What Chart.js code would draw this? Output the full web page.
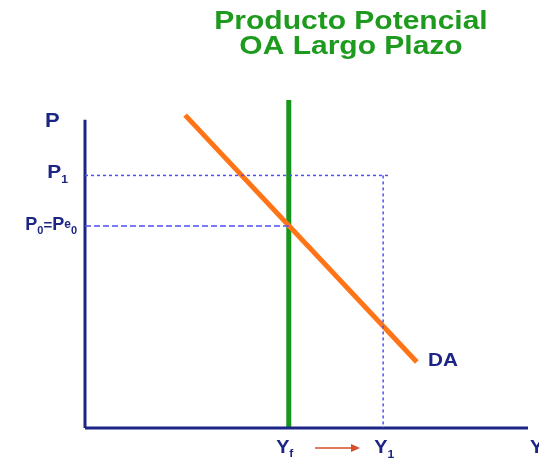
<!DOCTYPE html>
<html>
<head>
<meta charset="utf-8">
<script src="https://cdn.jsdelivr.net/npm/chart.js@4/dist/chart.umd.min.js"></script>
<style>
  html, body { margin: 0; padding: 0; background: #fff; }
  canvas { display: block; }
</style>
</head>
<body>
<canvas id="chart" width="539" height="466"></canvas>
<script>
// model values, in arbitrary units (0..100 on both axes)
const yAxisLine = [{ x: 0, y: 0 }, { x: 0, y: 94 }];
const xAxisLine = [{ x: 0, y: 0 }, { x: 100, y: 0 }];
const potentialOutput = [{ x: 46, y: 0 }, { x: 46, y: 100 }];   // OA largo plazo
const demand = [{ x: 22.6, y: 95.4 }, { x: 74.9, y: 20.1 }];     // DA
const p1Guide = [{ x: 0, y: 77 }, { x: 68.4, y: 77 }];
const y1Guide = [{ x: 67.3, y: 77 }, { x: 67.3, y: 0 }];
const p0Guide = [{ x: 0, y: 61.6 }, { x: 46, y: 61.6 }];

const titleLines = ["Producto Potencial", "OA Largo Plazo"];
const navy = "#1c2585";
const FONT = "'Liberation Sans', Arial, sans-serif";

// draw text runs (text, size, dy) with a horizontal stretch
function drawRuns(ctx, x, y, runs, align, stretch) {
  stretch = stretch || 1.1;
  let total = 0;
  runs.forEach(r => { ctx.font = "bold " + r[1] + "px " + FONT; total += ctx.measureText(r[0]).width; });
  total *= stretch;
  let cx = align === "right" ? x - total : align === "center" ? x - total / 2 : x;
  ctx.save();
  ctx.translate(cx, y);
  ctx.scale(stretch, 1);
  let ox = 0;
  runs.forEach(r => {
    ctx.font = "bold " + r[1] + "px " + FONT;
    ctx.fillText(r[0], ox, r[2] || 0);
    ox += ctx.measureText(r[0]).width;
  });
  ctx.restore();
}

const annotations = {
  id: "annotations",
  afterDraw(chart) {
    const ctx = chart.ctx;
    const xs = chart.scales.x, ys = chart.scales.y;
    ctx.save();
    ctx.textBaseline = "alphabetic";
    ctx.textAlign = "left";
    // title
    ctx.fillStyle = "#1e9a1e";
    ctx.strokeStyle = "#1e9a1e";
    ctx.lineWidth = 0.6;
    drawRuns(ctx, 351, 29, [[titleLines[0], 25]], "center", 1.2);
    drawRuns(ctx, 351, 54, [[titleLines[1], 25]], "center", 1.2);

    ctx.fillStyle = navy;
    drawRuns(ctx, 45, 127, [["P", 20]]);
    drawRuns(ctx, xs.getPixelForValue(0) - 17, ys.getPixelForValue(77) + 3, [["P", 19], ["1", 11, 5]], "right");
    drawRuns(ctx, xs.getPixelForValue(0) - 8, ys.getPixelForValue(61.6) + 4,
      [["P", 18], ["0", 11, 4], ["=", 15], ["P", 18], ["e", 12, -2], ["0", 11, 4]], "right", 1.0);
    drawRuns(ctx, xs.getPixelForValue(46) - 4, 453, [["Y", 18], ["f", 11, 4]], "center");
    drawRuns(ctx, xs.getPixelForValue(67.3) + 1, 453, [["Y", 18], ["1", 11, 5]], "center");
    drawRuns(ctx, 530, 453, [["Y", 18]]);
    drawRuns(ctx, 428, 366, [["DA", 18]], "left", 1.15);

    // arrow Yf -> Y1
    const ax0 = 315, ax1 = 360, ay = 448;
    ctx.strokeStyle = "#d2502a";
    ctx.fillStyle = "#d2502a";
    ctx.lineWidth = 1.5;
    ctx.beginPath(); ctx.moveTo(ax0, ay); ctx.lineTo(ax1 - 6, ay); ctx.stroke();
    ctx.beginPath(); ctx.moveTo(ax1, ay); ctx.lineTo(ax1 - 9, ay - 4); ctx.lineTo(ax1 - 9, ay + 4); ctx.closePath(); ctx.fill();
    ctx.restore();
  }
};

function seg(data, color, width, dash) {
  return {
    data: data,
    borderColor: color,
    borderWidth: width,
    borderDash: dash || [],
    pointRadius: 0,
    fill: false,
    tension: 0,
    clip: false,
    borderCapStyle: "butt"
  };
}

new Chart(document.getElementById("chart"), {
  type: "line",
  data: {
    datasets: [
      seg(p1Guide, "#4f4ff8", 1.5, [3, 3]),
      seg(y1Guide, "#4f4ff8", 1.5, [3, 3]),
      seg(p0Guide, "#4f4ff8", 1.5, [6, 3]),
      seg(yAxisLine, navy, 3),
      seg(xAxisLine, navy, 3),
      seg(demand, "#ff7417", 5),
      seg(potentialOutput, "#16961a", 5)
    ]
  },
  options: {
    responsive: false,
    animation: false,
    layout: { padding: { left: 85, right: 11, top: 100, bottom: 38 } },
    scales: {
      x: { type: "linear", min: 0, max: 100, display: false },
      y: { type: "linear", min: 0, max: 100, display: false }
    },
    plugins: {
      legend: { display: false },
      tooltip: { enabled: false }
    }
  },
  plugins: [annotations]
});
</script>
</body>
</html>
